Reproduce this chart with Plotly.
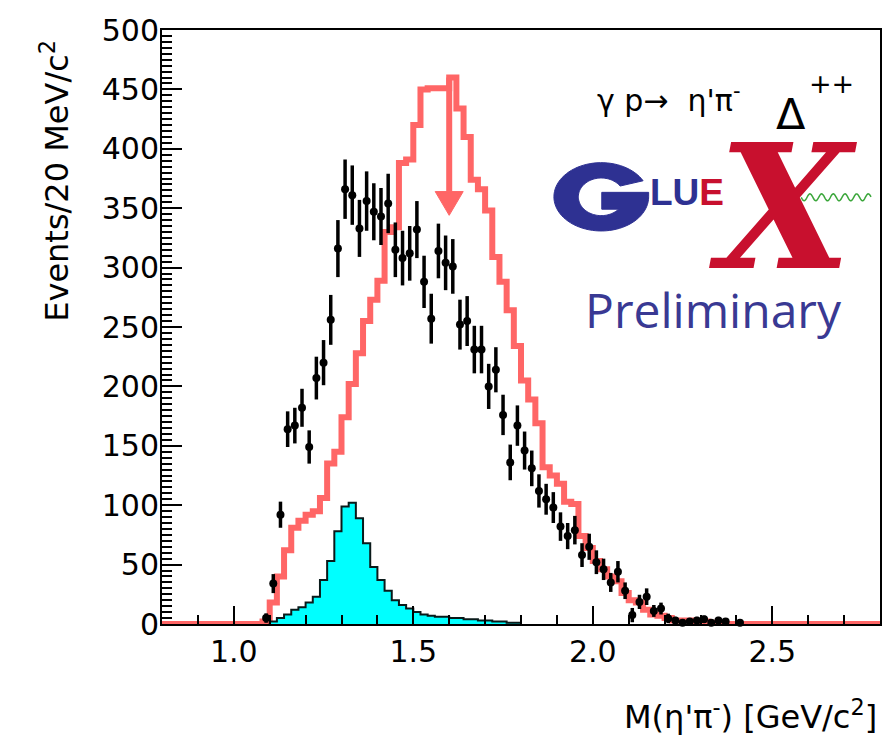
import numpy as np
import plotly.graph_objects as go

# ---------------- data ----------------
BIN_WIDTH = 0.02
X_RANGE = [0.8, 2.8]
Y_RANGE = [0, 500]

# red (thick) histogram, bins of 20 MeV starting at 1.08 GeV
RED_FIRST_EDGE = 1.08
red_counts = [2, 18, 40, 62, 81, 87, 92, 95, 106, 135,
              145, 174, 202, 228, 255, 273, 289, 330, 334, 388,
              391, 420, 450, 451, 451, 451, 460, 434, 410, 374,
              366, 348, 309, 288, 264, 234, 205, 189, 169, 132,
              125, 118, 103, 101, 74, 64, 53, 46, 40, 36,
              26, 20, 18, 12, 8, 7, 5, 3, 3, 3,
              2, 2, 1, 1]

# cyan filled histogram, starting at 1.10 GeV
CYAN_FIRST_EDGE = 1.10
cyan_counts = [2, 5, 8, 12, 14, 18, 23, 37, 53, 78,
               99, 102, 89, 68, 48, 37, 28, 20, 16, 13,
               10, 8, 7, 6, 6, 5, 5, 4, 4, 3,
               3, 2, 2, 1, 1]

# data points (bin centres, counts, errors)
data_mass = [1.09, 1.11, 1.13, 1.15, 1.17, 1.19, 1.21, 1.23, 1.25, 1.27,
             1.29, 1.31, 1.33, 1.35, 1.37, 1.39, 1.41, 1.43, 1.45, 1.47,
             1.49, 1.51, 1.53, 1.55, 1.57, 1.59, 1.61, 1.63, 1.65, 1.67,
             1.69, 1.71, 1.73, 1.75, 1.77, 1.79, 1.81, 1.83, 1.85, 1.87,
             1.89, 1.91, 1.93, 1.95, 1.97, 1.99, 2.01, 2.03, 2.05, 2.07,
             2.09, 2.11, 2.13, 2.15, 2.17, 2.19, 2.21, 2.23, 2.25, 2.27,
             2.29, 2.31, 2.33, 2.35, 2.37, 2.41]
data_counts = [5, 34, 92, 164, 167, 182, 149, 207, 220, 256,
               316, 366, 361, 333, 356, 347, 343, 354, 315, 308,
               312, 332, 288, 257, 314, 304, 301, 252, 255, 231,
               231, 200, 214, 176, 136, 167, 146, 131, 112, 105,
               98, 82, 74, 79, 58, 65, 52, 46, 35, 44,
               28, 7.5, 18.6, 23, 11, 13, 4.7, 3, 1, 2,
               3, 4, 1, 3, 2, 1]
data_errors = [4, 8, 11, 15, 15, 16, 14, 18, 19, 21,
               24, 25, 25, 24, 25, 24, 24, 25, 23, 23,
               23, 24, 22, 21, 23, 23, 23, 21, 21, 20,
               20, 19, 19, 17, 15, 17, 16, 15, 14, 13,
               13, 12, 11, 12, 10, 11, 10, 9, 8, 9,
               7, 6, 6, 7, 5, 5, 4, 3, 3, 3,
               3, 3, 2, 3, 2, 2]

# arrow marking the peak
ARROW_X = 1.6
ARROW_TOP = 460
ARROW_HEAD_BASE = 364
ARROW_TIP = 344
ARROW_HALF_WIDTH = 0.039

RED = "#ff6666"
CYAN = "#00ffff"
BLUE = "#2e3192"
LOGO_RED = "#c8102e"

# ---------------- build step histograms ----------------
n_bins = int(round((X_RANGE[1] - X_RANGE[0]) / BIN_WIDTH))
edges = np.round(X_RANGE[0] + BIN_WIDTH * np.arange(n_bins + 1), 4)
red_full = np.zeros(n_bins)
i0 = int(round((RED_FIRST_EDGE - X_RANGE[0]) / BIN_WIDTH))
red_full[i0:i0 + len(red_counts)] = red_counts
red_y = list(red_full) + [red_full[-1]]

c0 = int(round((CYAN_FIRST_EDGE - X_RANGE[0]) / BIN_WIDTH))
cyan_x = [edges[c0]] + list(edges[c0:c0 + len(cyan_counts) + 1])
cyan_y = [0] + list(cyan_counts) + [0]

fig = go.Figure()

fig.add_trace(go.Scatter(
    x=list(edges), y=red_y, mode="lines", line=dict(shape="hv", color=RED, width=6),
    hoverinfo="skip"))

fig.add_trace(go.Scatter(
    x=cyan_x, y=cyan_y, mode="lines", line=dict(shape="hv", color="#0a1a1a", width=2),
    fill="tozeroy", fillcolor=CYAN, hoverinfo="skip"))

fig.add_trace(go.Scatter(
    x=data_mass, y=data_counts, mode="markers",
    marker=dict(color="black", size=8),
    error_y=dict(type="data", array=data_errors, color="black", thickness=3.5, width=0),
    cliponaxis=False))

# arrow
fig.add_shape(type="line", xref="x", yref="y", x0=ARROW_X, x1=ARROW_X,
              y0=ARROW_TOP, y1=ARROW_HEAD_BASE, line=dict(color=RED, width=6))
fig.add_shape(type="path", xref="x", yref="y",
              path=f"M {ARROW_X - ARROW_HALF_WIDTH},{ARROW_HEAD_BASE} L {ARROW_X + ARROW_HALF_WIDTH},{ARROW_HEAD_BASE} L {ARROW_X},{ARROW_TIP} Z",
              fillcolor=RED, line=dict(color=RED, width=1))

# ---------------- layout ----------------
L, R, T, B = 162, 12, 24, 116
W, H = 894, 740
PW, PH = W - L - R, H - T - B


def px(x):
    return (x - L) / PW


def py(y):
    return (T + PH - y) / PH


FONT = "DejaVu Sans"

fig.update_layout(
    width=W, height=H, autosize=False,
    margin=dict(l=L, r=R, t=T, b=B, pad=0),
    plot_bgcolor="white", paper_bgcolor="white",
    showlegend=False,
    font=dict(family=FONT, size=30, color="black"),
)
fig.update_xaxes(
    range=X_RANGE, showgrid=False, zeroline=False,
    showline=True, linecolor="black", linewidth=2, mirror=True,
    ticks="inside", ticklen=18, tickwidth=2, tickcolor="black",
    tick0=0, dtick=0.5, tickformat=".1f",
    minor=dict(ticks="inside", ticklen=9, tickwidth=2, tickcolor="black", dtick=0.1, tick0=0),
    tickfont=dict(family=FONT, size=30), ticklabelstandoff=0,
)
fig.update_yaxes(
    range=Y_RANGE, showgrid=False, zeroline=False,
    showline=True, linecolor="black", linewidth=2, mirror=True,
    ticks="inside", ticklen=20, tickwidth=2, tickcolor="black",
    tick0=0, dtick=50,
    minor=dict(ticks="inside", ticklen=10, tickwidth=2, tickcolor="black", dtick=5, tick0=0),
    tickfont=dict(family=FONT, size=30), ticklabelstandoff=-5,
)

ann = []
# axis titles
ann.append(dict(text="Events/20 MeV/c<sup>2</sup>", xref="paper", yref="paper",
                x=px(55), y=py(176), xanchor="center", yanchor="middle",
                textangle=-90, showarrow=False, font=dict(family=FONT, size=32)))
ann.append(dict(text="M(η'π<sup>-</sup>) [GeV/c<sup>2</sup>]", xref="paper", yref="paper",
                x=px(881), y=py(716), xanchor="right", yanchor="middle",
                showarrow=False, font=dict(family=FONT, size=32)))
# reaction label
ann.append(dict(text="γ p→  η'π<sup>-</sup>",
                xref="paper", yref="paper", x=px(596), y=py(93),
                xanchor="left", yanchor="middle", showarrow=False,
                font=dict(family=FONT, size=30)))
ann.append(dict(text="Δ", xref="paper", yref="paper", x=px(793), y=py(109),
                xanchor="center", yanchor="middle", showarrow=False,
                font=dict(family=FONT, size=43)))
ann.append(dict(text="++", xref="paper", yref="paper", x=px(833), y=py(78),
                xanchor="center", yanchor="middle", showarrow=False,
                font=dict(family=FONT, size=27)))

# GlueX logo: the "G" drawn as a filled outline
gcx, gcy = 602.5, 192.5
orx, ory = 47.5, 34.5
irx, iry = 23.0, 19.0
bar_top, bar_bot, bar_left = 188.0, 205.0, 603.0
a_open = np.deg2rad(28)
outer = [(gcx + orx * np.cos(t), gcy - ory * np.sin(t))
         for t in np.linspace(a_open, 2 * np.pi, 80)]
inner_start = np.arcsin(-(bar_bot - gcy) / iry)
inner = [(gcx + irx * np.cos(t), gcy - iry * np.sin(t))
         for t in np.linspace(2 * np.pi + inner_start, a_open + 0.12, 80)]
g_pts = outer + [(gcx + orx, bar_top), (bar_left, bar_top), (bar_left, bar_bot)] + inner
g_path = " ".join(("M" if i == 0 else "L") + f" {px(x):.5f},{py(y):.5f}" for i, (x, y) in enumerate(g_pts)) + " Z"
fig.add_shape(type="path", xref="paper", yref="paper", path=g_path,
              fillcolor=BLUE, line=dict(color=BLUE, width=1))

ann.append(dict(text=f"LU<span style='color:{LOGO_RED}'>E</span>", xref="paper", yref="paper",
                x=px(649), y=py(188), xanchor="left", yanchor="middle", showarrow=False,
                font=dict(family="Liberation Sans", size=37, color=BLUE, weight="bold")))
ann.append(dict(text="X", xref="paper", yref="paper", x=px(785), y=py(203),
                xanchor="center", yanchor="middle", showarrow=False,
                font=dict(family="DejaVu Serif", size=172, color=LOGO_RED,
                          style="italic", weight="bold")))
ann.append(dict(text="Preliminary", xref="paper", yref="paper", x=px(715), y=py(306),
                xanchor="center", yanchor="middle", showarrow=False,
                font=dict(family="Open Sans", size=48, color="#393993")))
fig.update_layout(annotations=ann)

# green wavy line of the logo
wx0, wx1, wy, amp, period = 803, 873, 193, 3.5, 11.7
pts = []
xs = np.linspace(wx0, wx1, 120)
for i, xv in enumerate(xs):
    yv = wy + amp * np.sin(2 * np.pi * (xv - wx0) / period)
    pts.append(("M" if i == 0 else "L") + f" {px(xv):.5f},{py(yv):.5f}")
fig.add_shape(type="path", xref="paper", yref="paper", path=" ".join(pts),
              line=dict(color="#3aa63a", width=1.5))

fig.write_html("out.html")
